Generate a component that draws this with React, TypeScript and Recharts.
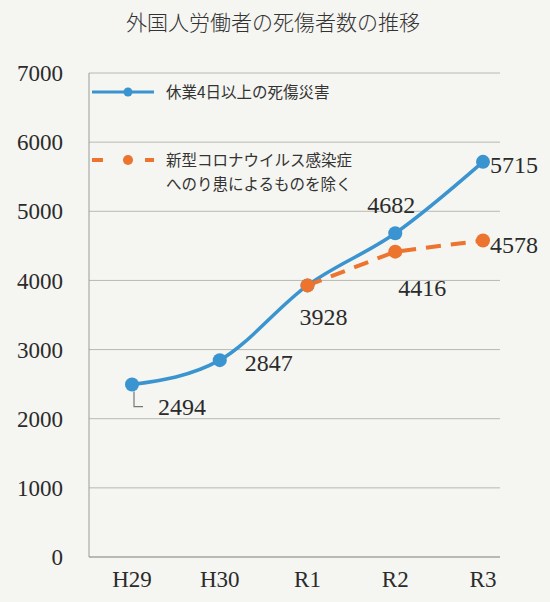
import React from "react";
import {
  LineChart, Line, XAxis, YAxis, CartesianGrid, LabelList, Legend,
} from "recharts";

// --- data ---
const years = ["H29", "H30", "R1", "R2", "R3"];
const allInjuries = [2494, 2847, 3928, 4682, 5715];
const excludingCovid = [null, null, 3928, 4416, 4578];
const yTicks = [0, 1000, 2000, 3000, 4000, 5000, 6000, 7000];

const title = "外国人労働者の死傷者数の推移";
const seriesNames = ["休業4日以上の死傷災害", "新型コロナウイルス感染症", "へのり患によるものを除く"];

const data = years.map((y, i) => ({
  year: y,
  all: allInjuries[i],
  excl: excludingCovid[i],
}));

const BLUE = "#3a94cf";
const ORANGE = "#ec742e";
const SERIF = '"Liberation Serif", "DejaVu Serif", "Noto Sans CJK JP", serif';
const TEXT = "#2b2b2b";

// label offsets per point (dx, dy, anchor)
const blueLabelPos: ([number, number, string] | null)[] = [
  [26, 22, "start"],
  [25, 3, "start"],
  [16, 32, "middle"],
  [-4, -28, "middle"],
  [7, 3, "start"],
];
const orangeLabelPos: ([number, number, string] | null)[] = [
  null, null, null,
  [27, 36, "middle"],
  [7, 5, "start"],
];

const makeLabel = (pos: typeof blueLabelPos, leaderIdx = -1) => (props: any) => {
  const { x, y, value, index } = props;
  const p = pos[index];
  if (!p || value == null) return null;
  return (
    <g>
      {index === leaderIdx && (
        <path
          d={`M${x + 2},${y + 7} V${y + 22} H${x + 11}`}
          fill="none"
          stroke="#777"
          strokeWidth={1.2}
        />
      )}
      <text
        x={x + p[0]}
        y={y + p[1]}
        textAnchor={p[2] as any}
        dominantBaseline="central"
        fontFamily={SERIF}
        fontSize={24}
        fill={TEXT}
      >
        {value}
      </text>
    </g>
  );
};

function LegendBox() {
  const txt: React.CSSProperties = {
    fontFamily: '"Noto Sans CJK JP", sans-serif',
    fontSize: 15.5,
    color: "#333",
    whiteSpace: "nowrap",
    lineHeight: "20px",
  };
  return (
    <div style={{ position: "relative", width: 300, height: 120 }}>
      <svg width={70} height={120} style={{ position: "absolute", left: 0, top: 0 }}>
        <line x1={2} y1={12} x2={64} y2={12} stroke={BLUE} strokeWidth={3} />
        <circle cx={38} cy={12} r={4.5} fill={BLUE} />
        <line x1={2} y1={80} x2={64} y2={80} stroke={ORANGE} strokeWidth={4} strokeDasharray="11 42 11" />
        <circle cx={38} cy={80} r={5} fill={ORANGE} />
      </svg>
      <div style={{ ...txt, position: "absolute", left: 76, top: 1 }}>{seriesNames[0]}</div>
      <div style={{ ...txt, position: "absolute", left: 76, top: 69 }}>{seriesNames[1]}</div>
      <div style={{ ...txt, position: "absolute", left: 76, top: 93 }}>{seriesNames[2]}</div>
    </div>
  );
}

export default function App() {
  return (
    <div
      style={{
        position: "absolute",
        left: 0,
        top: 0,
        width: 550,
        height: 602,
        background: "#f5f5f1",
        overflow: "hidden",
      }}
    >
      <div
        style={{
          position: "absolute",
          left: 0,
          width: 546,
          top: 6,
          textAlign: "center",
          fontFamily: '"Noto Sans CJK JP", sans-serif',
          fontSize: 21,
          color: "#333",
          fontWeight: 300,
        }}
      >
        {title}
      </div>
      <LineChart
        width={550}
        height={602}
        data={data}
        margin={{ top: 73, right: 50, left: 0, bottom: 15 }}
      >
        <CartesianGrid vertical={false} stroke="#b8b8b4" strokeWidth={1} />
        <XAxis
          dataKey="year"
          height={30}
          padding={{ left: 43, right: 17 }}
          axisLine={{ stroke: "#9a9a96" }}
          tickLine={false}
          tickSize={0}
          tickMargin={14}
          tick={{ fontFamily: SERIF, fontSize: 23, fill: TEXT }}
          interval={0}
        />
        <YAxis
          width={89}
          domain={[0, 7000]}
          ticks={yTicks}
          axisLine={{ stroke: "#9a9a96" }}
          tickLine={false}
          tickSize={0}
          tickMargin={26}
          tick={{ fontFamily: SERIF, fontSize: 23, fill: TEXT }}
          interval={0}
        />
        <Legend
          layout="horizontal"
          verticalAlign="middle"
          content={() => <LegendBox />}
          wrapperStyle={{ top: 80, left: 90, width: 300, height: 120 }}
        />
        <Line
          type="monotone"
          dataKey="all"
          stroke={BLUE}
          strokeWidth={3.5}
          dot={{ r: 7, fill: BLUE, stroke: BLUE, strokeWidth: 0 }}
          activeDot={false}
          isAnimationActive={false}
        >
          <LabelList dataKey="all" content={makeLabel(blueLabelPos, 0)} />
        </Line>
        <Line
          type="linear"
          dataKey="excl"
          stroke={ORANGE}
          strokeWidth={4}
          strokeDasharray="15 10"
          dot={{ r: 7, fill: ORANGE, stroke: ORANGE, strokeWidth: 0 }}
          activeDot={false}
          connectNulls={false}
          isAnimationActive={false}
        >
          <LabelList dataKey="excl" content={makeLabel(orangeLabelPos)} />
        </Line>
      </LineChart>
    </div>
  );
}
